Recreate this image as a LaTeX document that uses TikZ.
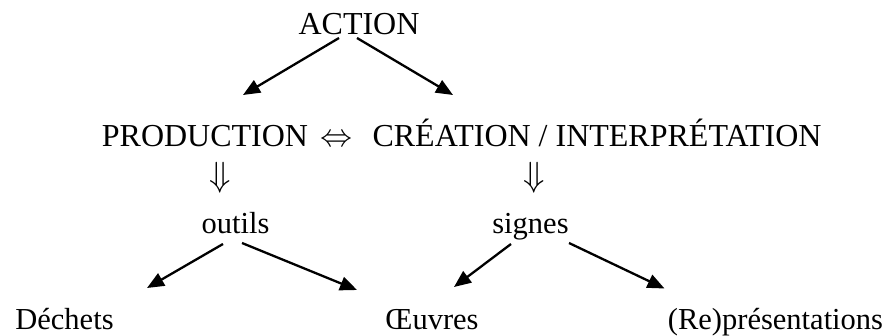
\RequirePackage{fix-cm}
\documentclass[tikz,border=0pt]{standalone}
\usepackage{fontspec}
\setmainfont{Liberation Serif}
\usepackage{amsmath}
\usepackage{tikz}
\usetikzlibrary{arrows.meta,positioning}
\usetikzlibrary{calc}

\tikzset{
  word/.style={inner sep=0pt,outer sep=0pt,anchor=base,font=\fontsize{30.5}{36}\selectfont},
  caps/.style={word,font=\fontsize{32}{38}\selectfont},
  down/.style={inner sep=0pt,outer sep=0pt,font=\fontsize{35}{40}\selectfont},
  branch/.style={line width=2.3pt,-{Triangle[length=17pt,width=14pt]}}
}

\begin{document}
\begin{tikzpicture}[x=1pt,y=-1pt]
\useasboundingbox (0,0) rectangle (889,336);
\node[caps] (action) at (359,35) {ACTION};
\node[caps] (prod) at (205,147) {PRODUCTION};
\node[caps] (equiv) at (336,147) {$\Leftrightarrow$};
\node[caps] (crea) at (597,147) {CRÉATION / INTERPRÉTATION};
\node[down] (downL) at (220.5,178) {$\Downarrow$};
\node[down] (downR) at (534,178) {$\Downarrow$};
\node[word] (outils) at (235.5,234) {outils};
\node[word] (signes) at (530.5,234) {signes};
\node[word] (dechets) at (64.5,330) {Déchets};
\node[word] (oeuvres) at (432,330) {Œuvres};
\node[word] (repr) at (775.5,330) {(Re)présentations};
% free ends of the arrows
\coordinate (tA) at (243,95);
\coordinate (tB) at (453,95);
\coordinate (tC) at (147,288);
\coordinate (tD) at (357,290);
\coordinate (tE) at (454,287);
\coordinate (tF) at (664.5,288.5);
\draw[branch] ([shift={(-20pt,-3pt)}]action.base) -- (tA);
\draw[branch] ([shift={(-2pt,-3pt)}]action.base) -- (tB);
\draw[branch] ([shift={(-12.5pt,-10pt)}]outils.base) -- (tC);
\draw[branch] ([shift={(6.5pt,-9pt)}]outils.base) -- (tD);
\draw[branch] ([shift={(-19.5pt,-10pt)}]signes.base) -- (tE);
\draw[branch] ([shift={(38.5pt,-9pt)}]signes.base) -- (tF);
\end{tikzpicture}
\end{document}
